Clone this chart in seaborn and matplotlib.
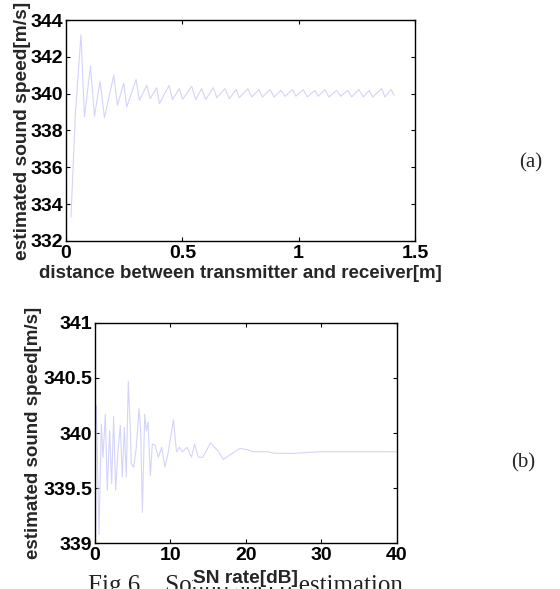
import matplotlib
matplotlib.use("Agg")
import matplotlib.pyplot as plt
import seaborn as sns
import pandas as pd

# ---- data (a): estimated sound speed vs distance ----
distance_m = [0.021, 0.040, 0.064, 0.079, 0.105, 0.122, 0.146, 0.165, 0.205, 0.221,
              0.248, 0.261, 0.301, 0.315, 0.347, 0.361, 0.390, 0.401, 0.443, 0.457,
              0.487, 0.501, 0.540, 0.557, 0.583, 0.600, 0.633, 0.648, 0.683, 0.702,
              0.731, 0.745, 0.781, 0.798, 0.829, 0.844, 0.877, 0.894, 0.924, 0.941,
              0.974, 0.988, 1.020, 1.037, 1.070, 1.084, 1.113, 1.130, 1.163, 1.181,
              1.211, 1.228, 1.259, 1.278, 1.303, 1.318, 1.357, 1.371, 1.397, 1.411]
speed_a = [333.3, 338.9, 343.2, 338.74, 341.5, 338.77, 340.68, 338.7, 340.99, 339.37,
           340.58, 339.28, 340.77, 339.64, 340.45, 339.73, 340.32, 339.46, 340.45, 339.68,
           340.27, 339.69, 340.40, 339.68, 340.27, 339.68, 340.32, 339.78, 340.27, 339.73,
           340.22, 339.78, 340.27, 339.82, 340.22, 339.82, 340.22, 339.82, 340.18, 339.86,
           340.22, 339.86, 340.22, 339.82, 340.18, 339.86, 340.22, 339.82, 340.18, 339.86,
           340.18, 339.82, 340.22, 339.82, 340.18, 339.82, 340.27, 339.82, 340.23, 339.90]

# ---- data (b): estimated sound speed vs SN rate ----
sn_db = [0.0, 0.18, 0.53, 0.84, 1.06, 1.37, 1.63, 1.94, 2.21, 2.47,
         2.74, 3.05, 3.36, 3.62, 3.89, 4.15, 4.42, 4.69, 4.82, 5.13,
         5.48, 5.84, 6.06, 6.28, 6.59, 6.81, 7.03, 7.34, 7.60, 7.96,
         8.40, 8.84, 9.28, 9.72, 10.4, 10.8, 11.2, 11.6, 12.2, 12.8,
         13.2, 13.7, 14.3, 15.3, 16.4, 17.0, 18.3, 19.2, 20.1, 21.0,
         23.0, 23.7, 26.3, 29.9, 40.0]
speed_b = [339.95, 340.25, 339.08, 340.08, 339.78, 340.17, 339.48, 340.02, 339.54, 340.15,
           339.48, 339.84, 340.07, 339.60, 340.05, 339.60, 340.47, 340.02, 339.72, 339.69,
           339.87, 340.22, 340.02, 339.28, 340.17, 340.02, 340.10, 339.61, 339.90, 339.89,
           339.78, 339.87, 339.69, 339.83, 340.12, 339.83, 339.87, 339.83, 339.87, 339.78,
           339.90, 339.78, 339.78, 339.91, 339.83, 339.76, 339.82, 339.86, 339.85, 339.83,
           339.83, 339.816, 339.816, 339.83, 339.83]

xticks_a = [0, 0.5, 1, 1.5]
xticklabels_a = ["0", "0.5", "1", "1.5"]
yticks_a = [332, 334, 336, 338, 340, 342, 344]
xticks_b = [0, 10, 20, 30, 40]
yticks_b = [339, 339.5, 340, 340.5, 341]
yticklabels_b = ["339", "339.5", "340", "340.5", "341"]

sns.set_theme(style="ticks")
plt.rcParams["font.family"] = ["Liberation Sans", "DejaVu Sans"]

fig = plt.figure(figsize=(5.6, 5.89), dpi=100)
ax1 = fig.add_axes([0.118, 0.591, 0.623, 0.375])
ax2 = fig.add_axes([0.1696, 0.0776, 0.539, 0.3745])

line_color = "#d4d4fb"
df_a = pd.DataFrame({"d": distance_m, "v": speed_a})
df_b = pd.DataFrame({"s": sn_db, "v": speed_b})
sns.lineplot(data=df_a, x="d", y="v", ax=ax1, color=line_color, lw=0.8, sort=False)
sns.lineplot(data=df_b, x="s", y="v", ax=ax2, color=line_color, lw=0.8, sort=False)

tick_font = dict(fontsize=14, fontweight="bold")

for ax in (ax1, ax2):
    for s in ax.spines.values():
        s.set_visible(True)
        s.set_linewidth(1.0)
        s.set_color("black")
    ax.tick_params(direction="in", length=3, width=0.8, top=True, right=True,
                   colors="black")
    ax.tick_params(axis="x", pad=3)
    ax.tick_params(axis="y", pad=2)

ax1.set_xlim(0, 1.5)
ax1.set_ylim(332, 344)
ax1.set_xticks(xticks_a)
ax1.set_xticklabels(xticklabels_a, **tick_font)
ax1.set_yticks(yticks_a)
ax1.set_yticklabels([str(t) for t in yticks_a], **tick_font)
ax1.set_xlabel("distance between transmitter and receiver[m]", labelpad=2,
               fontsize=13.5, fontweight="bold")
ax1.set_ylabel("estimated sound speed[m/s]", labelpad=0, fontsize=13.8, fontweight="bold")

ax2.set_xlim(0, 40)
ax2.set_ylim(339, 341)
ax2.set_xticks(xticks_b)
ax2.set_xticklabels([str(t) for t in xticks_b], **tick_font)
ax2.set_yticks(yticks_b)
ax2.set_yticklabels(yticklabels_b, **tick_font)
ax2.set_xlabel("SN rate[dB]", labelpad=4, fontsize=13.8, fontweight="bold",
               bbox=dict(facecolor="white", edgecolor="none", pad=0))
ax2.set_ylabel("estimated sound speed[m/s]", labelpad=1, fontsize=13.5, fontweight="bold")

serif = ["Liberation Serif", "DejaVu Serif"]
fig.text(0.948, 0.723, "(a)", family=serif, fontsize=15, fontweight="normal",
         ha="center", va="center")
fig.text(0.934, 0.214, "(b)", family=serif, fontsize=15, fontweight="normal",
         ha="center", va="center")
fig.text(0.157, 0.024, "Fig.6    Sound speed estimation", family=serif, fontsize=18,
         fontweight="normal", ha="left", va="top", color="#222222", zorder=-1)

fig.savefig("out.png", dpi=100)
